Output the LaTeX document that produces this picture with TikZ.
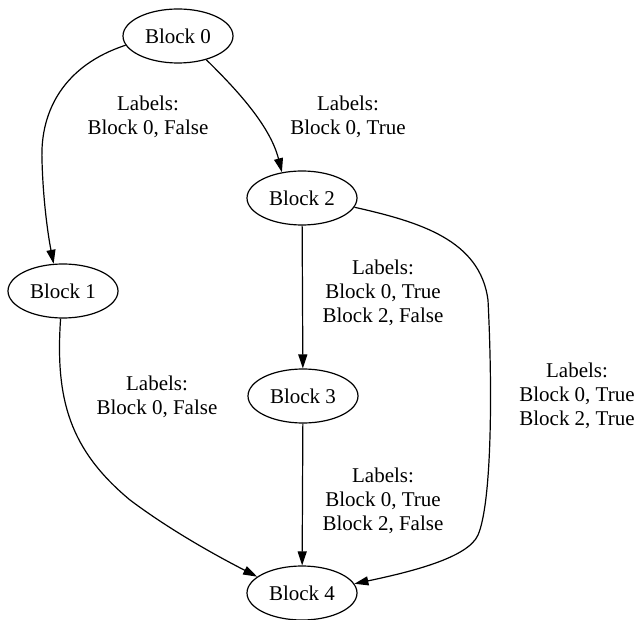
\documentclass[tikz,border=0pt]{standalone}
\usepackage{fontspec}
\setmainfont{Liberation Serif}
\usetikzlibrary{arrows.meta, shapes.geometric}

\begin{document}
\begin{tikzpicture}[
    x=1pt, y=-1pt,
    font=\fontsize{21}{24}\selectfont,
    blk/.style={ellipse, draw, line width=1.2pt, minimum width=110pt,
                minimum height=54pt, inner sep=0pt},
    lbl/.style={align=center, inner sep=0pt},
    arr/.style={-{Triangle[length=14pt, width=9pt]}, line width=1.2pt}
]
\useasboundingbox (0,0) rectangle (637,620);

% Blocks
\node[blk] (b0) at (178,36) {Block 0};
\node[blk] (b2) at (302,198) {Block 2};
\node[blk] (b1) at (63,291) {Block 1};
\node[blk] (b3) at (303,396) {Block 3};
\node[blk] (b4) at (302,593) {Block 4};

% Edge labels
\node[lbl] (l01) at (148,117) {Labels:\\Block 0, False};
\node[lbl] (l02) at (348,117) {Labels:\\Block 0, True};
\node[lbl] (l23) at (383,293) {Labels:\\Block 0, True\\Block 2, False};
\node[lbl] (l14) at (157,397) {Labels:\\Block 0, False};
\node[lbl] (l24) at (577,396) {Labels:\\Block 0, True\\Block 2, True};
\node[lbl] (l34) at (383,501) {Labels:\\Block 0, True\\Block 2, False};

% Edges
\draw[arr] (b0.190) .. controls (65,65) and (40,110) .. (42,160)
    .. controls (43,200) and (48,235) .. (b1.109);
\draw[arr] (b0.-40) .. controls (235,88) and (270,125) .. (b2.128);
\draw[arr] (b2) -- (b3);
\draw[arr] (b3) -- (b4);
\draw[arr] (b2.-10) .. controls (420,222) and (480,240) .. (488,300)
    .. controls (493,400) and (491,505) .. (478,535)
    .. controls (468,558) and (410,572) .. (b4.10);
\draw[arr] (b1.-95) .. controls (55,400) and (70,450) .. (130,500)
    .. controls (170,530) and (215,555) .. (b4.160);
\end{tikzpicture}
\end{document}
